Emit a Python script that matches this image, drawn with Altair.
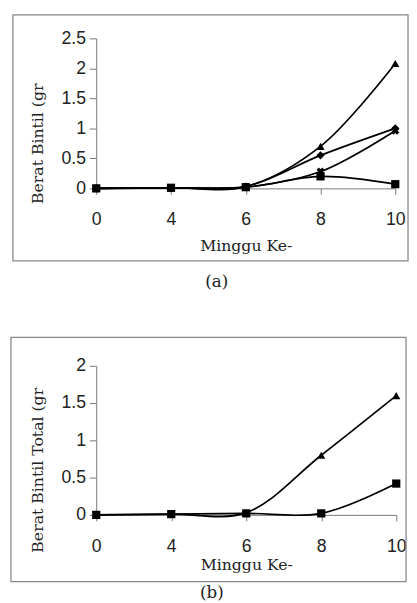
import altair as alt
import pandas as pd

weeks = ["0", "4", "6", "8", "10"]

# Panel (a)
a_diamond = [0.0, 0.01, 0.03, 0.55, 1.00]
a_square = [0.0, 0.01, 0.02, 0.20, 0.07]
a_triangle = [0.0, 0.01, 0.03, 0.70, 2.08]
a_cross = [0.0, 0.01, 0.02, 0.28, 0.96]

# Panel (b)
b_triangle = [0.0, 0.01, 0.03, 0.80, 1.60]
b_square = [0.0, 0.01, 0.02, 0.02, 0.42]

a_ticks = [0, 0.5, 1, 1.5, 2, 2.5]
b_ticks = [0, 0.5, 1, 1.5, 2]

SERIF = "DejaVu Serif"
SANS = "Liberation Sans"


def long_df(series):
    rows = []
    for name, vals in series.items():
        for w, v in zip(weeks, vals):
            rows.append({"week": w, "value": v, "series": name})
    return pd.DataFrame(rows)


def panel(df, ymax, ticks, ytitle, caption, W, H, frame, cap_dx, cap_dy,
          xlab_pad, xtitle_pad, ytitle_y):
    x = alt.X("week:O", sort=weeks, scale=alt.Scale(type="point", padding=0),
              axis=alt.Axis(title="Minggu Ke-", labelAngle=0, labelFont=SANS,
                            labelFontSize=18, labelColor="#222",
                            titleFont=SERIF, titleFontSize=16,
                            titleFontWeight="normal", titleColor="#222",
                            labelPadding=xlab_pad, titlePadding=xtitle_pad,
                            tickSize=6, domainColor="#777", tickColor="#777"))
    y = alt.Y("value:Q", scale=alt.Scale(domain=[0, ymax], nice=False),
              axis=alt.Axis(title=ytitle, values=ticks, format=".1~f",
                            labelFont=SANS, labelFontSize=18, labelColor="#222",
                            titleFont=SERIF, titleFontSize=16,
                            titleFontWeight="normal", titleColor="#222",
                            titleY=ytitle_y,
                            labelPadding=4, titlePadding=16, tickSize=7,
                            grid=False, domainColor="#777", tickColor="#777"))
    names = list(df["series"].unique())
    shape_range = {"diamond": "diamond", "square": "square",
                   "triangle": "triangle-up", "cross": "cross"}
    lines = alt.Chart(df).mark_line(interpolate="catmull-rom", color="black",
                                    strokeWidth=1.7).encode(x=x, y=y, detail="series:N")
    pts = alt.Chart(df).mark_point(filled=True, color="black", size=70, opacity=1).encode(
        x=x, y=y,
        shape=alt.Shape("series:N", scale=alt.Scale(domain=names,
                        range=[shape_range[n] for n in names]), legend=None),
        angle=alt.condition(alt.datum.series == "cross", alt.value(45), alt.value(0)),
    )
    one = pd.DataFrame({"k": [0]})
    box = alt.Chart(one).mark_rect(fillOpacity=0, stroke="#888", strokeWidth=1.3).encode(
        x=alt.value(frame[0]), x2=alt.value(W + frame[1]),
        y=alt.value(frame[2]), y2=alt.value(H + frame[3]))
    cap = alt.Chart(one).mark_text(text=caption, font=SERIF, fontSize=17,
                                   color="#222").encode(
        x=alt.value(cap_dx), y=alt.value(H + cap_dy))
    return alt.layer(box, lines, pts, cap).properties(width=W, height=H)


df_a = long_df({"diamond": a_diamond, "square": a_square,
                "triangle": a_triangle, "cross": a_cross})
df_b = long_df({"triangle": b_triangle, "square": b_square})

pa = panel(df_a, 2.5, a_ticks, "Berat Bintil (gr", "(a)", 305, 153,
           (-85, 13, -24, 74), 123, 96, 17, 9, 107)
pb = panel(df_b, 2, b_ticks, "Berat Bintil Total (gr", "(b)", 306, 152,
           (-87, 10, -29, 68), 118, 80, 17, 2, 106)

chart = alt.vconcat(pa, pb, spacing=47).properties(
    padding={"left": 2, "top": 0, "right": 0, "bottom": 0}
).configure_view(stroke=None)

chart.save("out.html", embed_options={"renderer": "svg", "actions": False})
